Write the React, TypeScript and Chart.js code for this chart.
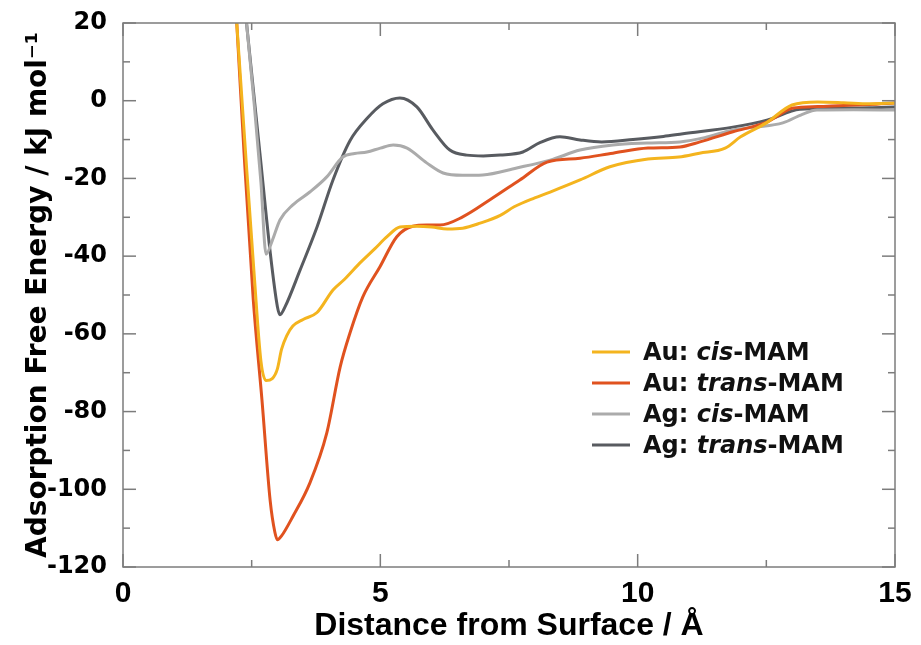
import { useEffect, useRef } from 'react';
import { Chart, registerables } from 'chart.js';

Chart.register(...registerables);

// ---- Data ----
const auCisX = [2.1, 2.21, 2.4, 2.55, 2.68, 2.78, 2.9, 3.0, 3.08, 3.18, 3.3, 3.5, 3.77, 4.08, 4.3, 4.6, 4.9, 5.13, 5.38, 5.7, 6.0, 6.3, 6.6, 6.94, 7.33, 7.6, 8.0, 8.3, 8.88, 9.46, 10.2, 10.8, 11.2, 11.7, 12.0, 12.5, 13.0, 13.5, 14.0, 14.5, 15.0];
const auCisY = [42, 20, -17, -45, -67, -72, -71.5, -69, -64, -60.5, -58, -56.3, -54.5, -48.7, -46, -41.8, -38, -35, -32.5, -32.3, -32.5, -33, -32.8, -31.5, -29.5, -27.3, -25, -23.5, -20.4, -17, -15, -14.5, -13.5, -12.2, -9.3, -5.7, -1.1, -0.3, -0.5, -0.8, -0.6];

const auTransX = [2.1, 2.21, 2.35, 2.53, 2.7, 2.86, 2.95, 3.0, 3.08, 3.3, 3.63, 3.96, 4.22, 4.41, 4.66, 4.99, 5.32, 5.63, 5.9, 6.16, 6.6, 7.13, 7.71, 8.24, 8.88, 9.52, 10.2, 10.82, 11.21, 11.85, 12.51, 13.02, 13.5, 14.0, 14.5, 15.0];
const auTransY = [42, 20, -13, -51, -77, -103, -111, -113, -112, -107, -98.4, -85.5, -68.5, -59.8, -50.5, -42.8, -35, -32.3, -32, -32, -29.9, -25.5, -20.4, -15.8, -14.8, -13.5, -12.2, -11.9, -10.6, -8, -5.5, -1.9, -1.5, -1.2, -1.0, -0.6];

const agCisX = [2.3, 2.4, 2.55, 2.68, 2.78, 2.9, 3.05, 3.3, 3.63, 3.96, 4.27, 4.5, 4.74, 5.0, 5.25, 5.52, 5.9, 6.22, 6.6, 6.99, 7.65, 8.3, 8.88, 9.52, 10.18, 10.82, 11.3, 11.85, 12.3, 12.82, 13.2, 13.48, 14.2, 15.0];
const agCisY = [33, 20, -1, -21, -39.5, -36, -30.7, -26.8, -23.5, -19.6, -14.5, -13.6, -13.2, -12.2, -11.4, -12.2, -16, -18.6, -19.2, -19.1, -17.3, -15.3, -12.7, -11.4, -10.9, -10.6, -9.5, -7.5, -6.8, -5.7, -3.5, -2.4, -2.3, -2.4];

const agTransX = [2.3, 2.4, 2.5, 2.66, 2.86, 3.0, 3.05, 3.15, 3.44, 3.77, 4.08, 4.41, 4.74, 5.05, 5.38, 5.71, 6.02, 6.35, 6.68, 7.0, 7.33, 7.77, 8.1, 8.49, 8.88, 9.3, 9.91, 10.5, 10.88, 11.85, 12.51, 13.15, 13.79, 14.5, 15.0];
const agTransY = [33, 20, 7, -13.5, -39, -53, -55.1, -53, -43.6, -32.5, -20.4, -10.3, -4.6, -0.8, 0.7, -1.6, -7.5, -12.7, -14, -14.2, -14, -13.2, -10.8, -9.3, -10.1, -10.6, -10.0, -9.2, -8.5, -6.8, -5, -2.2, -1.9, -1.8, -1.6];

const seriesPrefix = ['Au: ', 'Au: ', 'Ag: ', 'Ag: '];
const seriesItalic = ['cis', 'trans', 'cis', 'trans'];
const seriesSuffix = '-MAM';
const seriesColors = ['#F4B41E', '#E0521F', '#ABABAB', '#585B60'];

const xMin = 0;
const xMax = 15;
const xMajorStep = 5;
const xMinorStep = 2.5;
const yMin = -120;
const yMax = 20;
const yMajorStep = 20;
const yMinorStep = 10;

const xTitle = 'Distance from Surface / Å';
const yTitle = 'Adsorption Free Energy / kJ mol⁻¹';

const AXIS_COLOR = '#7c7c7c';

function toPoints(xs: number[], ys: number[]) {
  return xs.map((x, i) => ({ x, y: ys[i] }));
}

const frameTicksPlugin = {
  id: 'frameTicks',
  afterDraw(chart: any) {
    const { ctx, chartArea: ca, scales } = chart;
    const xs = scales.x;
    const ys = scales.y;
    ctx.save();
    ctx.strokeStyle = AXIS_COLOR;
    ctx.lineWidth = 1.5;
    ctx.strokeRect(ca.left, ca.top, ca.right - ca.left, ca.bottom - ca.top);
    const seg = (x1: number, y1: number, x2: number, y2: number) => {
      ctx.beginPath();
      ctx.moveTo(x1, y1);
      ctx.lineTo(x2, y2);
      ctx.stroke();
    };
    for (let v = xMin; v <= xMax + 1e-9; v += xMinorStep) {
      const px = xs.getPixelForValue(v);
      const r = v / xMajorStep;
      const major = Math.abs(r - Math.round(r)) < 1e-6;
      const L = major ? 13 : 7;
      seg(px, ca.bottom, px, ca.bottom - L);
      seg(px, ca.top, px, ca.top + L);
    }
    for (let v = yMin; v <= yMax + 1e-9; v += yMinorStep) {
      const py = ys.getPixelForValue(v);
      const r = v / yMajorStep;
      const major = Math.abs(r - Math.round(r)) < 1e-6;
      const L = major ? 13 : 7;
      seg(ca.left, py, ca.left + L, py);
      seg(ca.right, py, ca.right - L, py);
    }
    ctx.restore();
  },
};

const legendPlugin = {
  id: 'mixedLegend',
  afterDraw(chart: any) {
    const { ctx, chartArea: ca } = chart;
    const x0 = ca.right - 303;
    const y0 = ca.bottom - 215;
    chart.data.datasets.forEach((ds: any, i: number) => {
      const y = y0 + i * 31;
      ctx.save();
      ctx.strokeStyle = ds.borderColor;
      ctx.lineWidth = 3;
      ctx.beginPath();
      ctx.moveTo(x0, y);
      ctx.lineTo(x0 + 38, y);
      ctx.stroke();
      ctx.fillStyle = '#111';
      ctx.textBaseline = 'middle';
      ctx.textAlign = 'left';
      let x = x0 + 51;
      const parts: [string, boolean][] = [
        [seriesPrefix[i], false],
        [seriesItalic[i], true],
        [seriesSuffix, false],
      ];
      for (const [t, it] of parts) {
        ctx.font = `${it ? 'italic ' : ''}bold 24px "DejaVu Sans"`;
        ctx.fillText(t, x, y + 2);
        x += ctx.measureText(t).width;
      }
      ctx.restore();
    });
  },
};

export default function App() {
  const canvasRef = useRef<HTMLCanvasElement | null>(null);

  useEffect(() => {
    if (!canvasRef.current) return;
    const labels = seriesPrefix.map((p, i) => p + seriesItalic[i] + seriesSuffix);
    const series = [
      toPoints(auCisX, auCisY),
      toPoints(auTransX, auTransY),
      toPoints(agCisX, agCisY),
      toPoints(agTransX, agTransY),
    ];
    const chart = new Chart(canvasRef.current, {
      type: 'line',
      data: {
        datasets: series.map((data, i) => ({
          label: labels[i],
          data,
          borderColor: seriesColors[i],
          backgroundColor: seriesColors[i],
          borderWidth: 3,
          pointRadius: 0,
          fill: false,
          cubicInterpolationMode: 'monotone' as const,
        })),
      },
      options: {
        responsive: false,
        animation: false,
        layout: { padding: { left: 0, top: 23, right: 26, bottom: 0 } },
        plugins: {
          legend: { display: false },
          tooltip: { enabled: false },
        },
        scales: {
          x: {
            type: 'linear',
            min: xMin,
            max: xMax,
            grid: { display: false },
            border: { display: false },
            ticks: {
              stepSize: xMajorStep,
              color: '#000',
              padding: 4,
              font: { family: 'Liberation Sans', size: 30, weight: 'bold', lineHeight: 1 },
            },
            title: {
              display: true,
              text: xTitle,
              color: '#000',
              padding: { top: 0, bottom: 3 },
              font: { family: 'Liberation Sans', size: 32, weight: 'bold', lineHeight: 1 },
            },
            afterFit: (s: any) => {
              s.height = 78;
            },
          },
          y: {
            type: 'linear',
            min: yMin,
            max: yMax,
            grid: { display: false },
            border: { display: false },
            ticks: {
              stepSize: yMajorStep,
              color: '#000',
              padding: 8,
              font: { family: 'DejaVu Sans', size: 24, weight: 'bold' },
            },
            title: {
              display: true,
              text: yTitle,
              color: '#000',
              padding: { top: 22, bottom: 0 },
              font: { family: 'DejaVu Sans', size: 28, weight: 'bold', lineHeight: 1.2 },
            },
            afterFit: (s: any) => {
              s.width = 123;
            },
          },
        },
      },
      plugins: [frameTicksPlugin, legendPlugin],
    } as any);
    return () => chart.destroy();
  }, []);

  return (
    <div style={{ position: 'fixed', left: 0, top: 0, width: 921, height: 645, background: '#fff' }}>
      <canvas ref={canvasRef} width={921} height={645} style={{ display: 'block' }} />
    </div>
  );
}
